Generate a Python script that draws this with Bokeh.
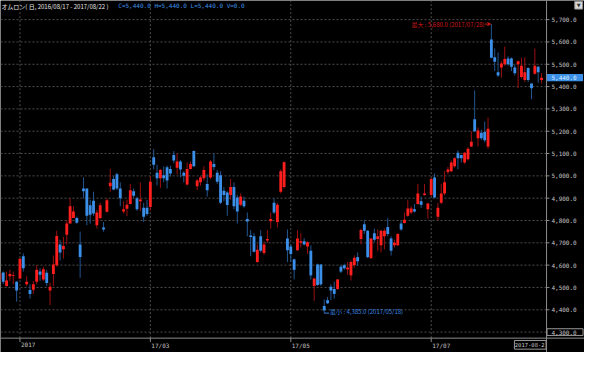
from bokeh.plotting import figure
from bokeh.models import ColumnDataSource, Arrow, VeeHead
from bokeh.core.properties import value
from bokeh.embed import file_html
from bokeh.resources import INLINE

# ---------------- data ----------------
idx = list(range(-6, 157))
opens = [4536, 4567, 4506, 4550, 4552, 4526,
         4540, 4640, 4514, 4489, 4490, 4526, 4571, 4536, 4566, 4486,
         4560, 4600, 4693, 4671, 4736, 4786, 4811, 4811, 4693, 4943,
         4943, 4868, 4889, 4779, 4811, 4769, 4839, 4954, 4986, 5007,
         4943, 4840, 4853, 4874, 4931, 4900, 4886, 4857, 4857, 4860,
         5083, 5014, 4989, 5003, 5039, 5031, 5093, 5036, 5064, 5014,
         4961, 5031, 5111, 4954, 4971, 4989, 4964, 4993, 5053, 5014,
         5003, 4933, 4926, 4914, 4950, 4903, 4871, 4889, 4807, 4733,
         4729, 4614, 4729, 4654, 4710, 4797, 4879, 4793, 4929, 4950,
         4719, 4683, 4626, 4667, 4700, 4707, 4683, 4664, 4507, 4603,
         4603, 4417, 4443, 4503, 4493, 4493, 4593, 4600, 4581, 4554,
         4600, 4636, 4717, 4783, 4754, 4631, 4743, 4717, 4689, 4729,
         4771, 4719, 4689, 4689, 4786, 4789, 4821, 4836, 4850, 4874,
         4886, 4914, 4850, 4914, 4993, 4817, 4879, 4921, 5017, 5021,
         5043, 5103, 5093, 5060, 5074, 5131, 5254, 5169, 5193, 5197,
         5131, 5611, 5531, 5464, 5486, 5500, 5526, 5526, 5486, 5500,
         5443, 5429, 5483, 5414, 5457, 5489, 5430]
highs = [4570, 4572, 4571, 4579, 4571, 4528,
         4631, 4653, 4550, 4514, 4529, 4600, 4586, 4593, 4579, 4521,
         4643, 4754, 4714, 4726, 4800, 4900, 4864, 4817, 4750, 4993,
         4943, 4893, 4929, 4848, 4879, 4793, 4900, 5031, 5000, 5014,
         4971, 4886, 4893, 4964, 4943, 4907, 4971, 4879, 4893, 5000,
         5121, 5050, 5031, 5043, 5046, 5046, 5111, 5100, 5071, 5021,
         5060, 5064, 5114, 4986, 5000, 5043, 5007, 5071, 5100, 5026,
         5021, 4950, 4931, 4986, 4971, 4914, 4921, 4907, 4836, 4757,
         4743, 4693, 4757, 4707, 4757, 4836, 4900, 4879, 5029, 5064,
         4760, 4693, 4629, 4757, 4743, 4721, 4707, 4689, 4543, 4607,
         4603, 4446, 4457, 4514, 4526, 4536, 4600, 4607, 4614, 4621,
         4643, 4657, 4764, 4803, 4757, 4721, 4764, 4760, 4757, 4764,
         4811, 4729, 4714, 4743, 4800, 4836, 4893, 4864, 4874, 4964,
         4907, 4964, 4879, 4993, 5011, 4879, 4964, 5021, 5040, 5069,
         5083, 5114, 5093, 5107, 5129, 5200, 5383, 5217, 5207, 5243,
         5261, 5680, 5571, 5553, 5514, 5579, 5536, 5531, 5500, 5517,
         5529, 5531, 5486, 5414, 5571, 5493, 5460]
lows = [4530, 4515, 4504, 4529, 4514, 4436,
        4536, 4571, 4507, 4450, 4471, 4514, 4529, 4529, 4507, 4421,
        4507, 4593, 4621, 4629, 4693, 4786, 4811, 4786, 4543, 4900,
        4779, 4786, 4821, 4764, 4806, 4750, 4836, 4929, 4936, 4936,
        4864, 4831, 4819, 4871, 4900, 4843, 4843, 4793, 4821, 4843,
        5029, 4957, 4946, 4971, 4943, 4997, 5057, 5007, 4993, 4971,
        4957, 5029, 5040, 4936, 4957, 4979, 4907, 4986, 5026, 4964,
        4874, 4886, 4821, 4893, 4850, 4786, 4864, 4857, 4729, 4640,
        4657, 4611, 4657, 4646, 4700, 4764, 4829, 4769, 4921, 4943,
        4614, 4614, 4536, 4664, 4679, 4689, 4650, 4536, 4440, 4507,
        4507, 4385, 4426, 4443, 4450, 4489, 4564, 4579, 4557, 4531,
        4589, 4597, 4693, 4740, 4631, 4629, 4703, 4664, 4657, 4671,
        4729, 4643, 4679, 4686, 4754, 4786, 4817, 4829, 4836, 4871,
        4857, 4911, 4807, 4907, 4900, 4800, 4874, 4914, 5007, 5017,
        5036, 5029, 5060, 5054, 5069, 5129, 5197, 5131, 5160, 5150,
        5121, 5526, 5469, 5443, 5440, 5493, 5493, 5469, 5450, 5393,
        5436, 5421, 5421, 5343, 5454, 5417, 5414]
closes = [4564, 4526, 4531, 4560, 4556, 4486,
          4629, 4586, 4526, 4471, 4514, 4579, 4557, 4581, 4520, 4503,
          4603, 4731, 4657, 4686, 4786, 4864, 4840, 4790, 4636, 4931,
          4821, 4826, 4831, 4836, 4868, 4760, 4891, 4969, 4939, 4943,
          4900, 4850, 4871, 4936, 4911, 4850, 4894, 4817, 4829, 4974,
          5050, 4989, 5026, 4989, 4979, 5011, 5069, 5064, 5029, 5000,
          5031, 5053, 5043, 4979, 4993, 5026, 4936, 5064, 5040, 4974,
          4879, 4914, 4869, 4950, 4864, 4840, 4907, 4864, 4796, 4726,
          4660, 4669, 4664, 4693, 4717, 4807, 4836, 4870, 5021, 5061,
          4667, 4650, 4579, 4719, 4707, 4693, 4703, 4554, 4540, 4511,
          4514, 4397, 4429, 4486, 4471, 4536, 4571, 4586, 4589, 4614,
          4633, 4617, 4757, 4754, 4636, 4719, 4714, 4729, 4754, 4754,
          4740, 4664, 4700, 4740, 4760, 4803, 4854, 4854, 4840, 4921,
          4871, 4921, 4876, 4986, 4903, 4857, 4921, 4971, 5029, 5060,
          5079, 5079, 5079, 5103, 5121, 5153, 5200, 5203, 5169, 5160,
          5211, 5529, 5511, 5450, 5503, 5524, 5500, 5489, 5460, 5514,
          5493, 5464, 5429, 5393, 5493, 5464, 5440]

tick_idx = [0, 39, 81, 123]
tick_labels = ["2017", "17/03", "17/05", "17/07"]
price_ticks = list(range(4300, 5701, 100))
last_date_label = "2017-08-2"
title_text = "オムロン( 日, 2016/08/17 - 2017/08/22 )"
ohlc_text = "C=5,440.0 H=5,440.0 L=5,440.0 V=0.0"
max_idx, max_val, max_date = 141, 5680, "2017/07/28"
min_idx, min_val, min_date = 91, 4385, "2017/05/18"
last_close = 5440

# ---------------- layout (reference-pixel based) ----------------
W, H = 584, 352
PX = 1 / 3.435          # index units per reference pixel
PY = 100 / 23.333       # price units per reference pixel
X0 = -20 * PX
X1 = X0 + 600 * PX
Y1 = 5700 + 20 * PY
Y0 = Y1 - 368 * PY
AX = X0 + 561 * PX      # right price-axis line
AY = Y1 - 353 * PY      # bottom time-axis line

UP_BODY, UP_WICK = "#ff1e1e", "#9c1010"
DN_BODY, DN_WICK = "#3b8fe8", "#22558f"
GRID = "#4e4e4e"
AXIS = "#8c8c8c"
TXT = "#c4c4c4"
MONO = value("DejaVu Sans Mono")
CJK = value("Noto Sans CJK JP")
FS = value("6px")

up = [c >= o for o, c in zip(opens, closes)]
src = ColumnDataSource(dict(
    x=idx, high=highs, low=lows,
    top=[max(o, c) for o, c in zip(opens, closes)],
    bot=[min(o, c) for o, c in zip(opens, closes)],
    body=[UP_BODY if u else DN_BODY for u in up],
    wick=[UP_WICK if u else DN_WICK for u in up],
))

p = figure(width=W, height=H, x_range=(X0, X1), y_range=(Y0, Y1),
           output_backend="svg", toolbar_location=None,
           x_axis_location=None, y_axis_location=None,
           background_fill_color="black", border_fill_color="black",
           outline_line_color=None, min_border=0)
p.grid.visible = False

n = len(price_ticks)
# dotted grid
p.segment(x0=[X0] * n, x1=[AX] * n, y0=price_ticks, y1=price_ticks,
          line_color=GRID, line_dash="2 2", line_width=1)
p.segment(x0=tick_idx, x1=tick_idx, y0=[AY] * len(tick_idx), y1=[Y1] * len(tick_idx),
          line_color=GRID, line_dash="2 2", line_width=1)

# candles
p.segment(x0="x", y0="high", x1="x", y1="low", line_color="wick", line_width=1, source=src)
p.vbar(x="x", width=0.85, top="top", bottom="bot", fill_color="body", line_color=None, source=src)

# axis lines and ticks
p.segment(x0=[AX, X0], x1=[AX, X1], y0=[Y0, AY], y1=[Y1, AY], line_color=AXIS, line_width=1)
p.segment(x0=[AX] * n, x1=[AX + 3 * PX] * n, y0=price_ticks, y1=price_ticks,
          line_color=AXIS, line_width=1)
p.segment(x0=tick_idx, x1=tick_idx, y0=[AY] * len(tick_idx), y1=[AY - 4 * PY] * len(tick_idx),
          line_color=AXIS, line_width=1)

# boxes in the axis areas
p.quad(left=[AX + 0.5 * PX], right=[X1 - 1.5 * PX],
       top=[price_ticks[0] + 3.5 * PY], bottom=[price_ticks[0] - 3.5 * PY],
       fill_color="black", line_color="#9a9a9a", line_width=1)
p.quad(left=[AX + 0.5 * PX], right=[X1 - 1.5 * PX],
       top=[last_close + 3.8 * PY], bottom=[last_close - 3.8 * PY],
       fill_color="#3a8ee6", line_color=None)
p.quad(left=[AX - 33 * PX], right=[AX - 0.5 * PX],
       top=[AY - 2.5 * PY], bottom=[AY - 11.5 * PY],
       fill_color="black", line_color="#9a9a9a", line_width=1)
# small corner icon
p.quad(left=[X1 - 10 * PX], right=[X1 - 2 * PX], top=[Y1 - 1 * PY], bottom=[Y1 - 9 * PY],
       fill_color="#d8d8d8", line_color="#909090")
p.text(x=[X1 - 6 * PX], y=[Y1 - 5 * PY], text=["▼"], text_align="center", text_baseline="middle",
       text_font=value("DejaVu Sans"), text_font_size=value("5px"), text_color="#333333")

# axis labels
p.text(x=[AX + 5 * PX] * n, y=price_ticks, text=["{:,.1f}".format(v) for v in price_ticks],
       text_align="left", text_baseline="middle", text_font=MONO, text_font_size=FS,
       text_color=TXT)
p.text(x=[AX + 5 * PX], y=[last_close], text=["{:,.1f}".format(last_close)],
       text_align="left", text_baseline="middle", text_font=MONO, text_font_size=FS,
       text_color="#d9ecff")
p.text(x=[t + 1 * PX for t in tick_idx], y=[AY - 4 * PY] * len(tick_idx), text=tick_labels,
       text_align="left", text_baseline="top", text_font=MONO, text_font_size=FS,
       text_color=TXT)
p.text(x=[AX - 2 * PX], y=[AY - 7 * PY], text=[last_date_label],
       text_align="right", text_baseline="middle", text_font=MONO, text_font_size=value("5.5px"),
       text_color=TXT)

# title / OHLC line
p.text(x=[X0 + 1 * PX], y=[Y1 - 2 * PY], text=[title_text], text_align="left",
       text_baseline="top", text_font=CJK, text_font_size=FS, text_color="#e6e6e6")
p.text(x=[X0 + 121 * PX], y=[Y1 - 2 * PY], text=[ohlc_text], text_align="left",
       text_baseline="top", text_font=MONO, text_font_size=FS, text_color="#3f8fe6")

# max / min annotations
MAXC, MINC = "#d01818", "#3a86e0"
p.text(x=[max_idx - 7 * PX], y=[max_val], text=["最大 : {:,.1f} ({})".format(max_val, max_date)],
       text_align="right", text_baseline="middle", text_font=CJK, text_font_size=FS,
       text_color=MAXC)
p.add_layout(Arrow(end=VeeHead(size=3, line_color=MAXC, fill_color=MAXC, line_width=1),
                   x_start=max_idx - 6.5 * PX, y_start=max_val,
                   x_end=max_idx - 0.8 * PX, y_end=max_val,
                   line_color=MAXC, line_width=1))
p.segment(x0=[min_idx], y0=[min_val], x1=[min_idx + 5 * PX], y1=[min_val],
          line_color=MINC, line_width=1)
p.text(x=[min_idx + 6 * PX], y=[min_val + 2 * PY], text=["最小 : {:,.1f} ({})".format(min_val, min_date)],
       text_align="left", text_baseline="middle", text_font=CJK, text_font_size=FS,
       text_color=MINC)

open("out.html", "w").write(file_html(p, INLINE))
